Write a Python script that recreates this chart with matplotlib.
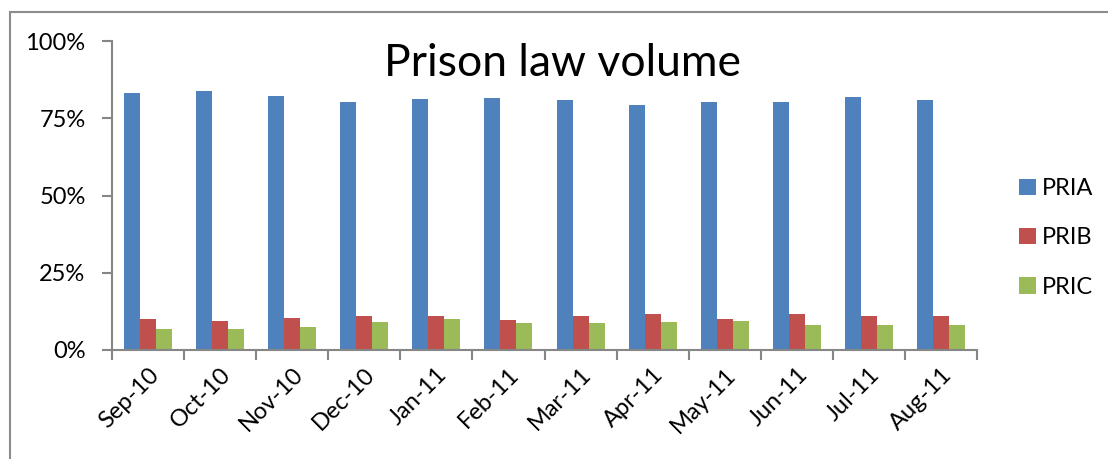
import matplotlib.pyplot as plt
import numpy as np
from matplotlib.patches import Rectangle

plt.rcParams['font.family'] = ['Lato', 'DejaVu Sans']

months = ['Sep-10', 'Oct-10', 'Nov-10', 'Dec-10', 'Jan-11', 'Feb-11',
          'Mar-11', 'Apr-11', 'May-11', 'Jun-11', 'Jul-11', 'Aug-11']
pria = [83.1, 83.8, 82.1, 80.3, 81.1, 81.6, 81.0, 79.3, 80.3, 80.4, 82.0, 81.0]
prib = [9.9, 9.3, 10.4, 10.9, 11.0, 9.6, 11.0, 11.7, 10.1, 11.5, 11.0, 11.0]
pric = [6.9, 6.7, 7.4, 9.0, 9.9, 8.7, 8.6, 9.0, 9.5, 8.1, 8.0, 8.0]

fig = plt.figure(figsize=(11.08, 4.59), dpi=100)
ax = fig.add_axes([112 / 1108, 1 - 350 / 459, 865 / 1108, 309 / 459])

# chart frame like the excel chart area
fig.patches.append(Rectangle((10 / 1108, -0.1), 1.1, 1 - 12 / 459 + 0.1,
                             transform=fig.transFigure, fill=False,
                             edgecolor='#8c8c8c', lw=1.5))

x = np.arange(len(months))
w = 0.222
ax.bar(x - w, pria, w, color='#4F81BD', label='PRIA')
ax.bar(x, prib, w, color='#C0504D', label='PRIB')
ax.bar(x + w, pric, w, color='#9BBB59', label='PRIC')

ax.set_xlim(-0.5, len(months) - 0.5)
ax.set_ylim(0, 100)
ax.set_yticks([0, 25, 50, 75, 100])
ax.set_yticklabels(['0%', '25%', '50%', '75%', '100%'])
ax.set_xticks(np.arange(len(months) + 1) - 0.5, minor=False)
ax.set_xticklabels([])
ax.set_xticks(x, minor=True)
ax.set_xticklabels(months, minor=True, rotation=45, ha='right',
                   rotation_mode='anchor', fontsize=17)
ax.tick_params(axis='x', which='minor', length=0, pad=10)
ax.tick_params(axis='x', which='major', length=7, width=1.5, color='#868686')
ax.tick_params(axis='y', length=7, width=1.5, color='#868686',
               labelsize=17, pad=12)

for s in ['top', 'right']:
    ax.spines[s].set_visible(False)
for s in ['left', 'bottom']:
    ax.spines[s].set_color('#868686')
    ax.spines[s].set_linewidth(1.5)

fig.text(562 / 1108, 1 - 63 / 459, 'Prison law volume', fontsize=32,
         ha='center', va='center')

fig.legend(loc='center left', bbox_to_anchor=(998 / 1108, 1 - 238 / 459),
           frameon=False, fontsize=17, handlelength=0.7, handleheight=0.7,
           handletextpad=0.25, labelspacing=1.2)

fig.savefig('out.png', dpi=100)
